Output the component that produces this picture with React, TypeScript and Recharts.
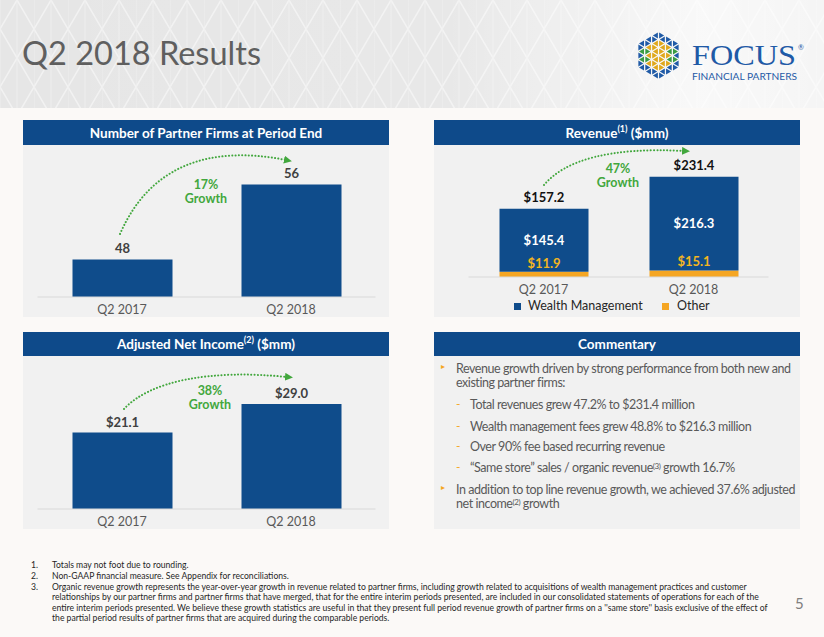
import React from 'react';
import { BarChart, Bar, XAxis, YAxis, LabelList, Legend } from 'recharts';

const periods = ['Q2 2017', 'Q2 2018'];
const partnerFirms = [48, 56];
const wealthMgmt = [145.4, 216.3];
const otherRevenue = [11.9, 15.1];
const revenueTotals = [157.2, 231.4];
const adjNetIncome = [21.1, 29.0];
const growthFirms = '17%';
const growthRevenue = '47%';
const growthIncome = '38%';

const firmsData = periods.map((p, i) => ({ period: p, value: partnerFirms[i] }));
const revenueData = periods.map((p, i) => ({ period: p, wm: wealthMgmt[i], other: otherRevenue[i], total: revenueTotals[i] }));
const incomeData = periods.map((p, i) => ({ period: p, value: adjNetIncome[i] }));

const F = "Lato, 'Open Sans', sans-serif";
const BLUE = '#0f4c8b';
const HEAD = '#0e4a8a';
const ORANGE = '#f5a623';
const GOLD = '#f2b51f';
const GREEN = '#42a73d';
const PANEL = '#f1f1f1';
const TXT = '#595959';

const Tick = ({ x, y, payload }: any) => (
  <text x={x} y={y} dy={17} textAnchor="middle" fill={TXT} fontSize={12.5} fontFamily={F}>{payload.value}</text>
);

const money = (v: any) => '$' + Number(v).toFixed(1);

const RevLegend = () => (
  <div style={{ height: 20, width: 366, position: 'relative', fontFamily: F, fontSize: 12.5, color: '#262626' }}>
    <span style={{ position: 'absolute', left: 80, top: 6, width: 7, height: 7, background: BLUE }} />
    <span style={{ position: 'absolute', left: 94, top: 1, whiteSpace: 'nowrap' }}>Wealth Management</span>
    <span style={{ position: 'absolute', left: 228, top: 6, width: 7, height: 7, background: ORANGE }} />
    <span style={{ position: 'absolute', left: 243, top: 1, whiteSpace: 'nowrap' }}>Other</span>
  </div>
);

const PanelHeader = ({ left, top, height, children }: any) => (
  <div style={{ position: 'absolute', left, top, width: 366, height, background: HEAD, color: '#fff', fontFamily: F, fontWeight: 700, fontSize: 13.5, display: 'flex', alignItems: 'center', justifyContent: 'center', whiteSpace: 'nowrap' }}>{children}</div>
);

const PanelBody = ({ left, top, height, children }: any) => (
  <div style={{ position: 'absolute', left, top, width: 366, height, background: PANEL }}>{children}</div>
);

function Logo() {
  const cx = 658.5, cy = 55.5, R = 24, n = 3;
  const V = Array.from({ length: 6 }, (_, k) => {
    const a = ((-90 + 60 * k) * Math.PI) / 180;
    return [cx + R * Math.cos(a), cy + R * Math.sin(a)];
  });
  const tris: any[] = [];
  for (let k = 0; k < 6; k++) {
    const A = V[k], B = V[(k + 1) % 6];
    const P = (a: number, b: number) => [cx + (a / n) * (A[0] - cx) + (b / n) * (B[0] - cx), cy + (a / n) * (A[1] - cy) + (b / n) * (B[1] - cy)];
    const side = k === 1 || k === 4;
    for (let a = 0; a < n; a++) for (let b = 0; a + b < n; b++) {
      tris.push({ pts: [P(a, b), P(a + 1, b), P(a, b + 1)], layer: a + b, side });
      if (a + b < n - 1) tris.push({ pts: [P(a + 1, b), P(a, b + 1), P(a + 1, b + 1)], layer: a + b + 0.5, side });
    }
  }
  const col = (t: any) => {
    if (t.layer >= 2) return '#1f5aa6';
    if (t.layer === 1.5) return t.side ? '#3a9b43' : '#1f5aa6';
    if (t.layer === 1) return t.side ? '#3a9b43' : '#e0a81c';
    return '#e0a81c';
  };
  return (
    <g>
      {tris.map((t, i) => {
        const gx = (t.pts[0][0] + t.pts[1][0] + t.pts[2][0]) / 3;
        const gy = (t.pts[0][1] + t.pts[1][1] + t.pts[2][1]) / 3;
        const s = 0.72;
        const d = t.pts.map((p: number[]) => `${gx + (p[0] - gx) * s},${gy + (p[1] - gy) * s}`).join(' ');
        return <polygon key={i} points={d} fill={col(t)} />;
      })}
      <text x={692} y={64.5} fontFamily="'Liberation Serif', 'DejaVu Serif', serif" fontSize={29} fill="#1f5aa6" textLength={104} lengthAdjust="spacingAndGlyphs">FOCUS</text>
      <text x={798} y={50} fontFamily={F} fontSize={7} fill="#1f5aa6">®</text>
      <text x={692} y={80} fontFamily={F} fontSize={9} fill="#1f5aa6" textLength={105} lengthAdjust="spacingAndGlyphs">FINANCIAL PARTNERS</text>
    </g>
  );
}

const commentary = [
  { kind: 'b', y: 369, text: 'Revenue growth driven by strong performance from both new and' },
  { kind: 'c', y: 383, text: 'existing partner firms:' },
  { kind: 'd', y: 405, text: 'Total revenues grew 47.2% to $231.4 million' },
  { kind: 'd', y: 427, text: 'Wealth management fees grew 48.8% to $216.3 million' },
  { kind: 'd', y: 447, text: 'Over 90% fee based recurring revenue' },
  { kind: 'd', y: 468, text: '\u201cSame store\u201d sales / organic revenue', sup: '(3)', after: ' growth 16.7%' },
  { kind: 'b', y: 490, text: 'In addition to top line revenue growth, we achieved 37.6% adjusted' },
  { kind: 'c', y: 504, text: 'net income', sup: '(2)', after: ' growth' },
];

const footnotes = [
  { num: '1.', y: 565, text: 'Totals may not foot due to rounding.' },
  { num: '2.', y: 576, text: 'Non-GAAP financial measure. See Appendix for reconciliations.' },
  { num: '3.', y: 587, text: 'Organic revenue growth represents the year-over-year growth in revenue related to partner firms, including growth related to acquisitions of wealth management practices and customer' },
  { num: '', y: 597.5, text: 'relationships by our partner firms and partner firms that have merged, that for the entire interim periods presented, are included in our consolidated statements of operations for each of the' },
  { num: '', y: 608, text: "entire interim periods presented. We believe these growth statistics are useful in that they present full period revenue growth of partner firms on a ''same store'' basis exclusive of the effect of" },
  { num: '', y: 618.5, text: 'the partial period results of partner firms that are acquired during the comparable periods.' },
];

export default function App() {
  return (
    <div style={{ position: 'absolute', left: 0, top: 0, width: 824, height: 637, background: '#fbf9f7', overflow: 'hidden', fontFamily: F }}>
      <svg width={824} height={108} style={{ position: 'absolute', left: 0, top: 0 }}>
        <defs>
          <pattern id="dia" width={34} height={58} patternUnits="userSpaceOnUse">
            <rect width={34} height={58} fill="#e6e6e6" />
            <path d="M17,0 L34,29 L17,58 L0,29 Z" fill="none" stroke="#f2f2f2" strokeWidth={1.5} />
            <path d="M0,0 L0,58 M17,0 L17,58" fill="none" stroke="#efefef" strokeWidth={1} />
          </pattern>
          <linearGradient id="fade" x1="0" x2="1" y1="0" y2="0">
            <stop offset="0" stopColor="#ffffff" stopOpacity={0} />
            <stop offset="0.55" stopColor="#ffffff" stopOpacity={0.1} />
            <stop offset="0.85" stopColor="#ffffff" stopOpacity={0.75} />
            <stop offset="1" stopColor="#ffffff" stopOpacity={0.6} />
          </linearGradient>
        </defs>
        <rect width={824} height={108} fill="url(#dia)" />
        <rect width={824} height={108} fill="url(#fade)" />
        <text x={22} y={65} fontFamily={F} fontSize={32.5} fill="#5f5f5f">Q2 2018 Results</text>
        <Logo />
      </svg>

      <PanelHeader left={23} top={120} height={25}>Number of Partner Firms at Period End</PanelHeader>
      <PanelBody left={23} top={145} height={172}>
        <BarChart width={366} height={172} data={firmsData} margin={{ top: 2, right: 13.5, bottom: 0, left: 14.5 }}>
          <XAxis dataKey="period" tick={<Tick />} tickLine={false} tickSize={0} tickMargin={0} height={20} axisLine={{ stroke: '#d9d9d9' }} />
          <YAxis hide domain={[44, 60]} allowDataOverflow />
          <Bar dataKey="value" fill={BLUE} barSize={100} isAnimationActive={false}>
            <LabelList dataKey="value" position="top" offset={7} fill="#404040" fontSize={13} fontWeight={700} fontFamily={F} />
          </Bar>
        </BarChart>
      </PanelBody>

      <PanelHeader left={434} top={120} height={25}>
        <span>Revenue<sup style={{ fontSize: 9, verticalAlign: 'top', position: 'relative', top: -2 }}>(1)</sup> ($mm)</span>
      </PanelHeader>
      <PanelBody left={434} top={145} height={172}>
        <BarChart width={366} height={172} data={revenueData} margin={{ top: 2, right: 31.5, bottom: 0, left: 34.5 }}>
          <XAxis dataKey="period" tick={<Tick />} tickLine={false} tickSize={0} tickMargin={0} height={20} axisLine={{ stroke: '#d9d9d9' }} />
          <YAxis hide domain={[0, 300]} allowDataOverflow />
          <Legend verticalAlign="bottom" content={<RevLegend />} wrapperStyle={{ left: 0, width: 366 }} />
          <Bar dataKey="other" stackId="r" name="Other" fill={ORANGE} barSize={89} isAnimationActive={false}>
            <LabelList dataKey="other" position="top" offset={4} formatter={money} fill={GOLD} fontSize={13} fontWeight={700} fontFamily={F} />
          </Bar>
          <Bar dataKey="wm" stackId="r" name="Wealth Management" fill={BLUE} barSize={89} isAnimationActive={false}>
            <LabelList dataKey="wm" position="center" formatter={money} fill="#ffffff" fontSize={13} fontWeight={700} fontFamily={F} />
            <LabelList dataKey="total" position="top" offset={7} formatter={money} fill="#111111" fontSize={13} fontWeight={700} fontFamily={F} />
          </Bar>
        </BarChart>
      </PanelBody>

      <PanelHeader left={23} top={332} height={24}>
        <span>Adjusted Net Income<sup style={{ fontSize: 9, verticalAlign: 'top', position: 'relative', top: -2 }}>(2)</sup> ($mm)</span>
      </PanelHeader>
      <PanelBody left={23} top={356} height={173}>
        <BarChart width={366} height={173} data={incomeData} margin={{ top: 8, right: 13.5, bottom: 0, left: 14.5 }}>
          <XAxis dataKey="period" tick={<Tick />} tickLine={false} tickSize={0} tickMargin={0} height={20} axisLine={{ stroke: '#d9d9d9' }} />
          <YAxis hide domain={[0, 40]} allowDataOverflow />
          <Bar dataKey="value" fill={BLUE} barSize={100} isAnimationActive={false}>
            <LabelList dataKey="value" position="top" offset={6} formatter={money} fill="#404040" fontSize={13} fontWeight={700} fontFamily={F} />
          </Bar>
        </BarChart>
      </PanelBody>

      <PanelHeader left={434} top={332} height={24}>Commentary</PanelHeader>
      <PanelBody left={434} top={356} height={173} />
      {commentary.map((c, i) => {
        const x = c.kind === 'd' ? 470 : 456;
        return (
          <React.Fragment key={i}>
            {c.kind === 'b' && <div style={{ position: 'absolute', left: 441, top: c.y - 8, fontSize: 8, color: ORANGE }}>▸</div>}
            {c.kind === 'd' && <div style={{ position: 'absolute', left: 456, top: c.y - 9, fontSize: 12, color: ORANGE }}>-</div>}
            <div style={{ position: 'absolute', left: x, top: c.y - 9, fontSize: 12.5, lineHeight: '18px', height: 18, color: TXT, whiteSpace: 'nowrap', letterSpacing: -0.45 }}>
              {c.text}
              {c.sup && <sup style={{ fontSize: 8, verticalAlign: 'top', position: 'relative', top: -2 }}>{c.sup}</sup>}
              {c.after}
            </div>
          </React.Fragment>
        );
      })}

      <svg width={824} height={637} style={{ position: 'absolute', left: 0, top: 0, pointerEvents: 'none' }}>
        <defs>
          <marker id="ah" markerWidth={8} markerHeight={8} refX={2} refY={4} orient="auto" markerUnits="userSpaceOnUse">
            <path d="M0,0 L8,4 L0,8 Z" fill={GREEN} />
          </marker>
        </defs>
        <g fill="none" stroke={GREEN} strokeWidth={2} strokeDasharray="0.1 3.2" strokeLinecap="round">
          <path d="M120,234 C150,165 210,145 286,160" markerEnd="url(#ah)" />
          <path d="M544,185 C565,160 610,147 684,151" markerEnd="url(#ah)" />
          <path d="M124,409 C150,381 210,369 287,377" markerEnd="url(#ah)" />
        </g>
        <g fill={GREEN} fontFamily={F} fontSize={12.5} fontWeight={700} textAnchor="middle">
          <text x={206} y={189}>{growthFirms}</text>
          <text x={206} y={203}>Growth</text>
          <text x={618} y={173}>{growthRevenue}</text>
          <text x={618} y={187}>Growth</text>
          <text x={210} y={395}>{growthIncome}</text>
          <text x={210} y={409}>Growth</text>
        </g>
      </svg>

      {footnotes.map((f, i) => (
        <React.Fragment key={i}>
          {f.num && <div style={{ position: 'absolute', left: 31, top: f.y - 5.5, fontSize: 8.6, lineHeight: '11px', color: '#262626' }}>{f.num}</div>}
          <div style={{ position: 'absolute', left: 52, top: f.y - 5.5, fontSize: 8.6, lineHeight: '11px', color: '#262626', whiteSpace: 'nowrap' }}>{f.text}</div>
        </React.Fragment>
      ))}
      <div style={{ position: 'absolute', left: 795, top: 594, fontSize: 15, color: '#7f7f7f' }}>5</div>
    </div>
  );
}
